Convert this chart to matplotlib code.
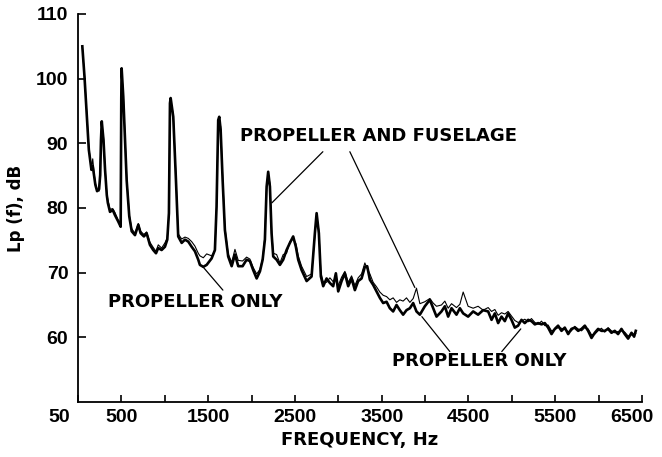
import matplotlib
matplotlib.use("Agg")
import matplotlib.pyplot as plt
import matplotlib.transforms as mtransforms

# Narrowband spectrum, propeller only vs propeller + fuselage
freq_hz = [
    50, 75, 100, 125, 155, 170, 185, 200, 220, 243, 256, 265, 274, 294, 312,
    332, 344, 369, 400, 426, 464, 492, 499, 503, 522, 561, 591, 619, 657, 695,
    722, 760, 791, 829, 867, 899, 925, 964, 1002, 1029, 1048, 1060, 1068, 1098,
    1129, 1155, 1195, 1233, 1271, 1310, 1348, 1386, 1405, 1444, 1483, 1540,
    1578, 1597, 1616, 1628, 1644, 1667, 1693, 1731, 1771, 1809, 1847, 1897,
    1943, 1981, 2019, 2059, 2097, 2128, 2154, 2174, 2192, 2212, 2231, 2250,
    2289, 2327, 2365, 2404, 2442, 2480, 2511, 2538, 2577, 2635, 2692, 2730,
    2750, 2776, 2799, 2826, 2865, 2903, 2941, 2972, 2999, 3038, 3076, 3114,
    3153, 3191, 3229, 3268, 3306, 3333, 3364, 3402, 3441, 3479, 3517, 3556,
    3594, 3632, 3671, 3709, 3747, 3786, 3825, 3863, 3901, 3940, 3997, 4055,
    4093, 4132, 4189, 4228, 4266, 4305, 4362, 4401, 4439, 4496, 4554, 4611,
    4669, 4727, 4766, 4804, 4842, 4881, 4919, 4957, 4996, 5034, 5072, 5111,
    5149, 5188, 5226, 5265, 5303, 5342, 5380, 5418, 5457, 5495, 5533, 5572,
    5610, 5649, 5687, 5725, 5764, 5803, 5841, 5879, 5918, 5956, 5994, 6033,
    6071, 6109, 6148, 6186, 6224, 6263, 6301, 6340, 6379, 6409, 6428,
]

prop_only_db = [
    105.0, 100.3, 94.7, 89.0, 85.9, 86.5, 85.0, 83.6, 82.6, 82.9, 85.1, 90.5,
    93.4, 90.5, 85.9, 82.0, 80.8, 79.4, 79.7, 78.9, 77.9, 77.1, 97.0, 101.6,
    97.2, 84.3, 78.7, 76.4, 75.8, 77.4, 76.1, 75.6, 76.1, 74.3, 73.5, 73.0,
    73.8, 73.5, 74.0, 75.1, 79.2, 96.2, 97.0, 94.1, 84.3, 75.6, 74.6, 75.1,
    74.8, 74.0, 73.3, 72.0, 71.2, 70.9, 71.2, 72.2, 73.5, 80.2, 93.6, 94.1,
    92.1, 84.3, 76.6, 72.5, 71.0, 72.8, 71.0, 71.0, 72.0, 71.8, 70.4, 69.1,
    70.2, 72.0, 75.1, 83.3, 85.6, 83.3, 76.1, 72.5, 72.0, 71.2, 72.0, 73.5,
    74.6, 75.6, 74.0, 72.0, 70.4, 68.7, 69.4, 76.1, 79.2, 76.1, 69.4, 67.9,
    69.1, 68.4, 67.9, 69.9, 67.1, 68.7, 69.9, 67.9, 69.1, 67.3, 68.7, 69.1,
    70.9, 71.0, 68.9, 68.1, 67.1, 66.1, 65.3, 65.5, 64.5, 64.0, 65.0, 64.2,
    63.5, 64.2, 64.5, 65.3, 64.0, 63.5, 64.8, 65.8, 64.5, 63.2, 64.0, 64.8,
    63.2, 64.5, 63.5, 64.5, 63.7, 63.2, 64.0, 63.5, 64.2, 64.0, 62.7, 63.7,
    62.2, 63.2, 62.5, 63.7, 62.7, 61.5, 61.8, 62.7, 62.2, 62.7, 62.5, 62.0,
    62.2, 62.0, 62.2, 61.5, 60.5, 61.3, 61.8, 61.0, 61.5, 60.5, 61.3, 61.5,
    61.0, 61.3, 61.8, 61.0, 59.9, 60.7, 61.3, 61.0, 61.0, 61.3, 60.7, 61.0,
    60.5, 61.3, 60.5, 59.8, 60.7, 60.1, 61.0,
]

prop_fuse_db = [
    104.8, 100.5, 94.9, 89.3, 86.2, 87.6, 85.4, 83.9, 82.8, 82.6, 85.5, 90.8,
    93.1, 90.9, 86.2, 82.3, 81.3, 79.8, 79.9, 79.3, 78.1, 77.4, 96.5, 101.2,
    97.6, 84.8, 79.0, 76.8, 76.1, 77.6, 76.4, 75.9, 76.3, 74.7, 73.9, 73.3,
    74.3, 73.8, 74.6, 75.4, 79.0, 95.8, 96.6, 94.5, 84.8, 76.0, 75.2, 75.5,
    75.3, 74.8, 74.1, 73.0, 72.6, 72.3, 72.9, 72.6, 73.4, 80.0, 93.2, 93.7,
    92.6, 84.9, 77.0, 72.9, 71.6, 73.6, 71.9, 71.8, 72.4, 72.1, 70.8, 69.8,
    70.5, 72.2, 75.6, 83.6, 85.2, 83.8, 76.6, 73.0, 72.8, 71.5, 72.8, 73.0,
    74.8, 75.2, 74.5, 72.6, 71.0, 69.4, 69.8, 75.8, 78.8, 76.5, 70.0, 68.6,
    68.5, 69.2, 68.6, 69.3, 68.0, 69.3, 70.2, 68.5, 69.5, 68.0, 69.2, 69.8,
    71.5, 70.6, 69.8, 68.5, 67.8, 67.0, 66.5, 66.3, 65.8, 66.1, 65.4, 65.8,
    65.6, 66.1, 65.4, 66.0, 67.6, 65.2, 65.5, 66.0, 65.3, 64.8, 65.0, 65.6,
    64.5, 65.2, 64.6, 65.1, 67.0, 64.8, 64.5, 64.8, 64.2, 64.6, 64.0, 64.3,
    63.4, 63.8, 63.6, 64.0, 63.3, 62.6, 62.3, 62.5, 62.8, 62.4, 62.9, 62.3,
    62.0, 62.5, 61.8, 61.9, 61.0, 61.2, 61.5, 61.4, 61.2, 60.9, 61.0, 61.7,
    61.3, 61.0, 61.5, 61.3, 60.4, 60.5, 61.0, 61.4, 60.8, 61.5, 61.0, 60.7,
    60.9, 61.0, 60.8, 60.2, 60.4, 60.5, 60.6,
]

x_ticks = [0, 500, 1000, 1500, 2000, 2500, 3000, 3500, 4000, 4500, 5000, 5500, 6000, 6500]
x_labels = ["50", "500", "", "1500", "", "2500", "", "3500", "", "4500", "", "5500", "", "6500"]
y_ticks = [60, 70, 80, 90, 100, 110]

tick_font = dict(family="Liberation Sans", weight="bold", size=14)
text_font = dict(family="DejaVu Sans", weight="bold", size=13)

fig = plt.figure(figsize=(6.62, 4.57), dpi=100)
ax = fig.add_axes([0.1178, 0.1204, 0.852, 0.849])

ax.plot(freq_hz, prop_fuse_db, color="black", lw=0.8, zorder=3)
ax.plot(freq_hz, prop_only_db, color="black", lw=1.9, zorder=2)

ax.set_xlim(0, 6500)
ax.set_ylim(50, 110)
for side in ("top", "right"):
    ax.spines[side].set_visible(False)
for side in ("left", "bottom"):
    ax.spines[side].set_linewidth(1.3)

ax.set_xticks(x_ticks)
ax.set_xticklabels(x_labels, fontdict=tick_font)
ax.set_yticks(y_ticks)
ax.set_yticklabels([str(v) for v in y_ticks], fontdict=tick_font)
ax.tick_params(axis="x", direction="in", length=5, width=1.2, pad=5)
ax.tick_params(axis="y", direction="in", length=6, width=1.2, pad=7)

# the "50" at the origin sits to the left of the corner, "6500" ends at the tick
labels = ax.get_xticklabels()
labels[0].set_horizontalalignment("right")
labels[0].set_transform(labels[0].get_transform() + mtransforms.ScaledTranslation(-0.08, 0, fig.dpi_scale_trans))
labels[-1].set_horizontalalignment("right")
labels[-1].set_transform(labels[-1].get_transform() + mtransforms.ScaledTranslation(0.11, 0, fig.dpi_scale_trans))

ax.set_xlabel("FREQUENCY, Hz", fontdict=text_font, labelpad=4)
ax.set_ylabel("Lp (f), dB", fontdict=dict(family="DejaVu Sans", weight="bold", size=12), labelpad=8)

# labels and leader lines
ax.text(1866, 91.1, "PROPELLER AND FUSELAGE", va="center", ha="left", **text_font)
ax.text(346, 65.5, "PROPELLER ONLY", va="center", ha="left", **text_font)
ax.text(3617, 56.4, "PROPELLER ONLY", va="center", ha="left", **text_font)

leader = dict(arrowstyle="-", color="black", lw=0.9, shrinkA=0, shrinkB=0)
ax.annotate("", xy=(2235, 80.8), xytext=(2822, 88.7), arrowprops=leader)
ax.annotate("", xy=(3882, 67.7), xytext=(3133, 88.7), arrowprops=leader)
ax.annotate("", xy=(1440, 70.9), xytext=(1670, 67.3), arrowprops=leader)
ax.annotate("", xy=(3963, 63.2), xytext=(4285, 57.8), arrowprops=leader)
ax.annotate("", xy=(5103, 61.3), xytext=(4884, 57.8), arrowprops=leader)

fig.savefig("out.png", dpi=100)
